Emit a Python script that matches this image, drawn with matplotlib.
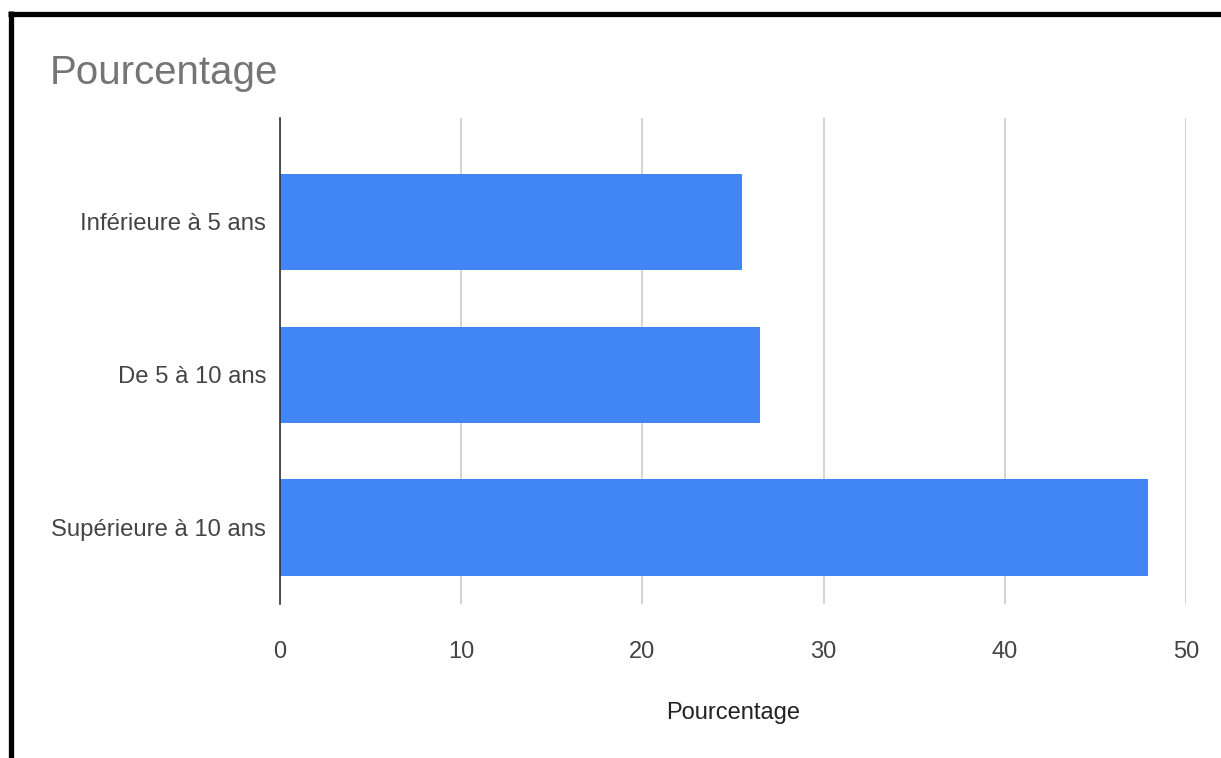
import matplotlib
matplotlib.use("Agg")
import matplotlib.pyplot as plt
from matplotlib.lines import Line2D

plt.rcParams['font.family'] = ['Liberation Sans', 'DejaVu Sans']

categories = ["Inférieure à 5 ans", "De 5 à 10 ans", "Supérieure à 10 ans"]
pourcentage = [25.5, 26.5, 47.9]
xticks = [0, 10, 20, 30, 40, 50]

fig = plt.figure(figsize=(12.21, 7.58), dpi=100)
ax = fig.add_axes([0.2293, 0.2032, 0.9713 - 0.2293, 0.8443 - 0.2032])

pos = list(range(len(categories)))
ax.barh(pos, pourcentage, height=0.63, color='#4285F4', zorder=3)
ax.set_ylim(2.5, -0.68)
ax.set_xlim(0, 50)
ax.set_yticks(pos)
ax.set_yticklabels(categories, fontsize=17.2, color='#444444')
ax.set_xticks(xticks)
ax.set_xticklabels([str(t) for t in xticks], fontsize=17, color='#444444')
ax.tick_params(axis='y', length=0, pad=10)
ax.tick_params(axis='x', length=0, pad=27)

ax.grid(axis='x', color='#cccccc', linewidth=1.2, zorder=0)
for s in ['top', 'right', 'bottom']:
    ax.spines[s].set_visible(False)
ax.spines['left'].set_color('#333333')
ax.spines['left'].set_linewidth(1.2)
ax.spines['left'].set_zorder(4)

ax.set_xlabel("Pourcentage", fontsize=17, color='#222222', labelpad=28)

fig.text(50 / 1221, 1 - 73 / 758, "Pourcentage", fontsize=29, color='#757575',
         ha='left', va='center')

# cadre noir haut et gauche
fig.add_artist(Line2D([8 / 1221, 1], [1 - 13.5 / 758, 1 - 13.5 / 758],
                      color='black', linewidth=3.8, solid_capstyle='butt',
                      transform=fig.transFigure))
fig.add_artist(Line2D([10.5 / 1221, 10.5 / 1221], [0, 1 - 11 / 758],
                      color='black', linewidth=3.8, solid_capstyle='butt',
                      transform=fig.transFigure))

fig.savefig("out.png", dpi=100)
